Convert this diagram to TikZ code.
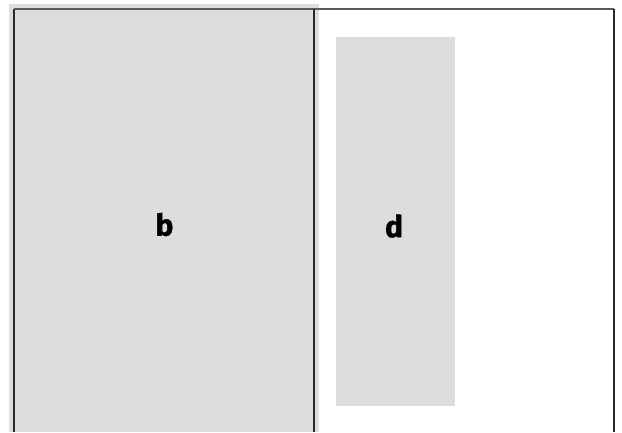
\documentclass[tikz,border=0pt]{standalone}
\usepackage{fontspec}
\setmainfont{Fira Sans}
\newfontfamily\heavyfont[BoldFeatures={FakeBold=1.2}]{Fira Sans}
\definecolor{panel}{HTML}{DCDDDF}
\definecolor{topline}{HTML}{5A5A5A}
\definecolor{sideline}{HTML}{2A2A2A}
\tikzset{
  panelbox/.style={fill=panel, draw=none},
  lbl/.style={font=\heavyfont\fontsize{30}{30}\selectfont\bfseries, inner sep=0pt},
  frame/.style={line width=1.5pt, draw=sideline},
}
\begin{document}
\begin{tikzpicture}[x=1pt,y=-1pt]
\useasboundingbox (0,0) rectangle (622,432);
% outer gray band behind left cell
\fill[panel] (9,4) rectangle (319,432);
% left cell
\node[panelbox, minimum width=300pt, minimum height=423pt, anchor=north west, inner sep=0pt] (b) at (14,9) {};
\node[lbl] (bl) at (164.5,224.5) {b};
% right inner box
\node[panelbox, minimum width=119pt, minimum height=369pt, anchor=north west, inner sep=0pt] (d) at (336,37) {};
\node[lbl] (dl) at (394,226) {d};
% frame
\draw[frame] (14,432) -- (14,9);
\draw[line width=1.5pt, draw=topline] (14,9) -- (614,9);
\draw[frame] (614,9) -- (614,432);
\draw[frame] (314,9) -- (314,432);
\end{tikzpicture}
\end{document}
